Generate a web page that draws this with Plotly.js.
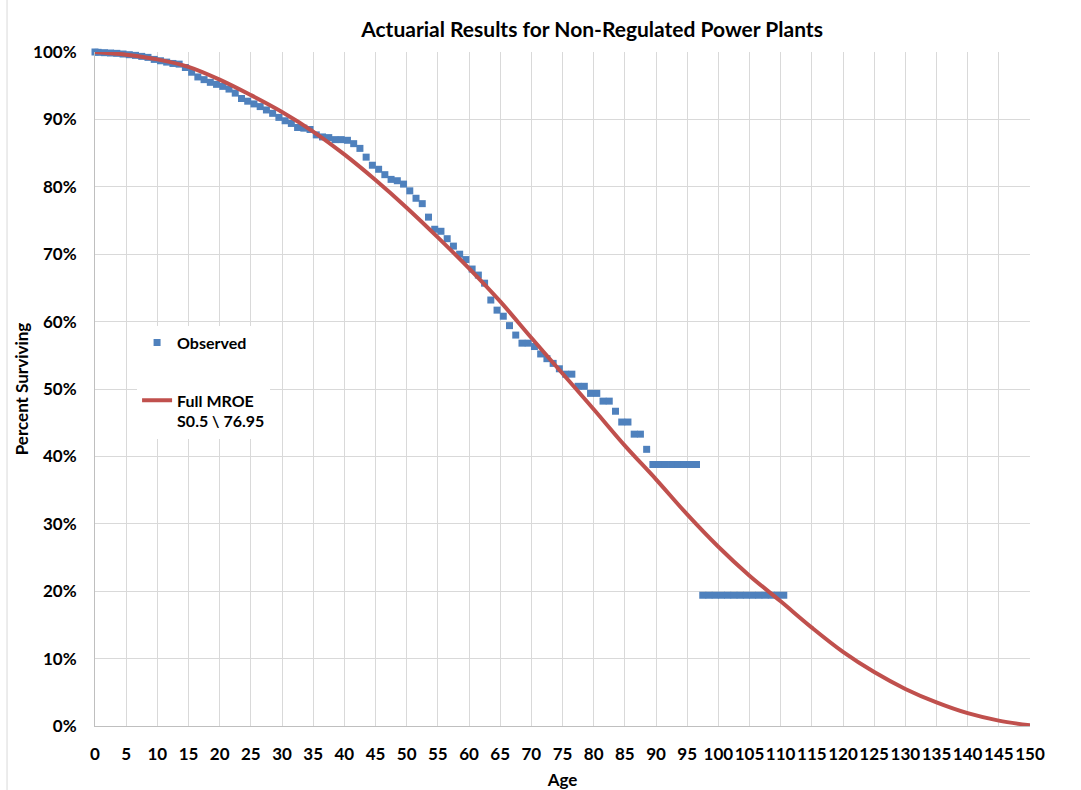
<!DOCTYPE html>
<html>
<head>
<meta charset="utf-8">
<script src="https://cdn.plot.ly/plotly-3.0.1.min.js"></script>
<style>html,body{margin:0;padding:0;background:#fff;}#chart{width:1081px;height:790px;}</style>
</head>
<body>
<div id="chart"></div>
<script>
// Observed survivors (age, percent surviving)
const obsAge = [0,0.5,1.5,2.5,3.5,4.5,5.5,6.5,7.5,8.5,9.5,10.5,11.5,12.5,13.5,14.5,15.5,16.5,17.5,18.5,19.5,
  20.5,21.5,22.5,23.5,24.5,25.5,26.5,27.5,28.5,29.5,30.5,31.5,32.5,33.5,34.5,35.5,36.5,37.5,38.5,39.5,
  40.5,41.5,42.5,43.5,44.5,45.5,46.5,47.5,48.5,49.5,50.5,51.5,52.5,53.5,54.5,55.5,56.5,57.5,58.5,59.5,
  60.5,61.5,62.5,63.5,64.5,65.5,66.5,67.5,68.5,69.5,70.5,71.5,72.5,73.5,74.5,75.5,76.5,77.5,78.5,79.5,
  80.5,81.5,82.5,83.5,84.5,85.5,86.5,87.5,88.5,89.5,90.5,91.5,92.5,93.5,94.5,95.5,96.5,
  97.5,98.5,99.5,100.5,101.5,102.5,103.5,104.5,105.5,106.5,107.5,108.5,109.5,110.5];
const obsPct = [100,99.95,99.9,99.85,99.8,99.7,99.6,99.5,99.35,99.2,98.9,98.7,98.5,98.3,98.2,97.7,97.0,96.3,95.9,95.5,95.2,
  94.9,94.5,93.9,93.1,92.7,92.3,91.9,91.4,90.9,90.3,89.8,89.4,88.8,88.7,88.5,87.7,87.4,87.3,87.0,87.0,
  86.9,86.4,85.7,84.4,83.2,82.6,81.8,81.1,80.9,80.4,79.4,78.3,77.5,75.5,73.7,73.4,72.3,71.2,70.0,69.2,
  67.8,66.9,65.7,63.2,61.7,60.8,59.4,58.0,56.8,56.8,56.3,55.2,54.5,53.8,53.0,52.2,52.2,50.4,50.4,49.35,
  49.35,48.2,48.2,46.7,45.1,45.1,43.3,43.3,41.05,38.8,38.8,38.8,38.8,38.8,38.8,38.8,38.8,
  19.4,19.4,19.4,19.4,19.4,19.4,19.4,19.4,19.4,19.4,19.4,19.4,19.4,19.4];

// Fitted Iowa curve S0.5 \ 76.95
const fitAge = [0,5,10,15,20,25,30,35,40,45,50,55,60,65,70,75,80,85,90,95,100,105,110,115,120,125,130,135,140,145,150];
const fitPct = [100,99.6,98.9,97.8,95.9,93.6,91.1,88.2,84.8,81.0,76.9,72.5,67.9,63.0,57.6,52.3,47.0,41.6,36.6,31.4,26.6,22.3,18.5,14.6,11.0,8.0,5.5,3.5,1.9,0.8,0.1];

const xTicks = [];
for (let a = 0; a <= 150; a += 5) xTicks.push(a);
const yTicks = [0,10,20,30,40,50,60,70,80,90,100];
const yTickText = yTicks.map(v => v + '%');

const FONT = 'Lato, "Open Sans", "DejaVu Sans", sans-serif';

const traces = [
  {
    x: obsAge, y: obsPct, name: '<b>Observed</b>', type: 'scatter', mode: 'markers',
    marker: {symbol: 'square', size: 7, color: '#4F81BD'},
    cliponaxis: false, legendgroup: 'a'
  },
  {
    x: fitAge, y: fitPct, name: '<b>Full MROE</b><br><b>S0.5 \\ 76.95</b>', type: 'scatter', mode: 'lines',
    line: {color: '#C0504D', width: 4, shape: 'spline', smoothing: 1},
    cliponaxis: false, legendgroup: 'b'
  }
];

const layout = {
  width: 1081, height: 790,
  margin: {l: 95, r: 51, t: 52, b: 64},
  paper_bgcolor: '#fff', plot_bgcolor: '#fff',
  font: {family: FONT, color: '#000', size: 16},
  title: {
    text: '<b>Actuarial Results for Non-Regulated Power Plants</b>',
    font: {family: FONT, size: 21, color: '#000'},
    x: 0.5316, xref: 'paper', xanchor: 'center', y: 0.962, yref: 'container', yanchor: 'middle'
  },
  xaxis: {
    range: [0, 150], tickvals: xTicks, ticktext: xTicks.map(v => '<b>' + v + '</b>'),
    tickangle: 0,
    showgrid: true, gridcolor: '#D9D9D9', gridwidth: 1,
    showline: true, linecolor: '#BFBFBF', linewidth: 1, zeroline: false,
    ticks: '', ticklabelstandoff: 13,
    tickfont: {family: FONT, size: 17, color: '#000'},
    title: {text: '<b>Age</b>', font: {family: FONT, size: 17, color: '#000'}, standoff: 10}
  },
  yaxis: {
    range: [0, 100], tickvals: yTicks, ticktext: yTickText.map(t => '<b>' + t + '</b>'),
    showgrid: true, gridcolor: '#D9D9D9', gridwidth: 1,
    showline: true, linecolor: '#BFBFBF', linewidth: 1, zeroline: false,
    ticks: '', ticklabelstandoff: 14,
    tickfont: {family: FONT, size: 17, color: '#000'},
    title: {text: '<b>Percent Surviving</b>', font: {family: FONT, size: 17, color: '#000'}, standoff: 0}
  },
  showlegend: true,
  legend: {
    x: 0.045, xanchor: 'left', y: 0.594, yanchor: 'top',
    bgcolor: 'rgba(255,255,255,1)', borderwidth: 0,
    font: {family: FONT, size: 16, color: '#000'},
    traceorder: 'grouped', tracegroupgap: 34, valign: 'top'
  },
  shapes: [
    {type: 'rect', xref: 'paper', yref: 'paper', x0: 0.0139, x1: 0.2225, y0: 0.4243, y1: 0.5994,
     fillcolor: '#fff', line: {width: 0}, layer: 'between'},
    {type: 'line', xref: 'paper', yref: 'paper', x0: -0.0941, x1: -0.0941, y0: -0.2, y1: 1.2,
     line: {color: '#D9D9D9', width: 1}}
  ]
};

Plotly.newPlot('chart', traces, layout, {displayModeBar: false, staticPlot: true});
</script>
</body>
</html>
